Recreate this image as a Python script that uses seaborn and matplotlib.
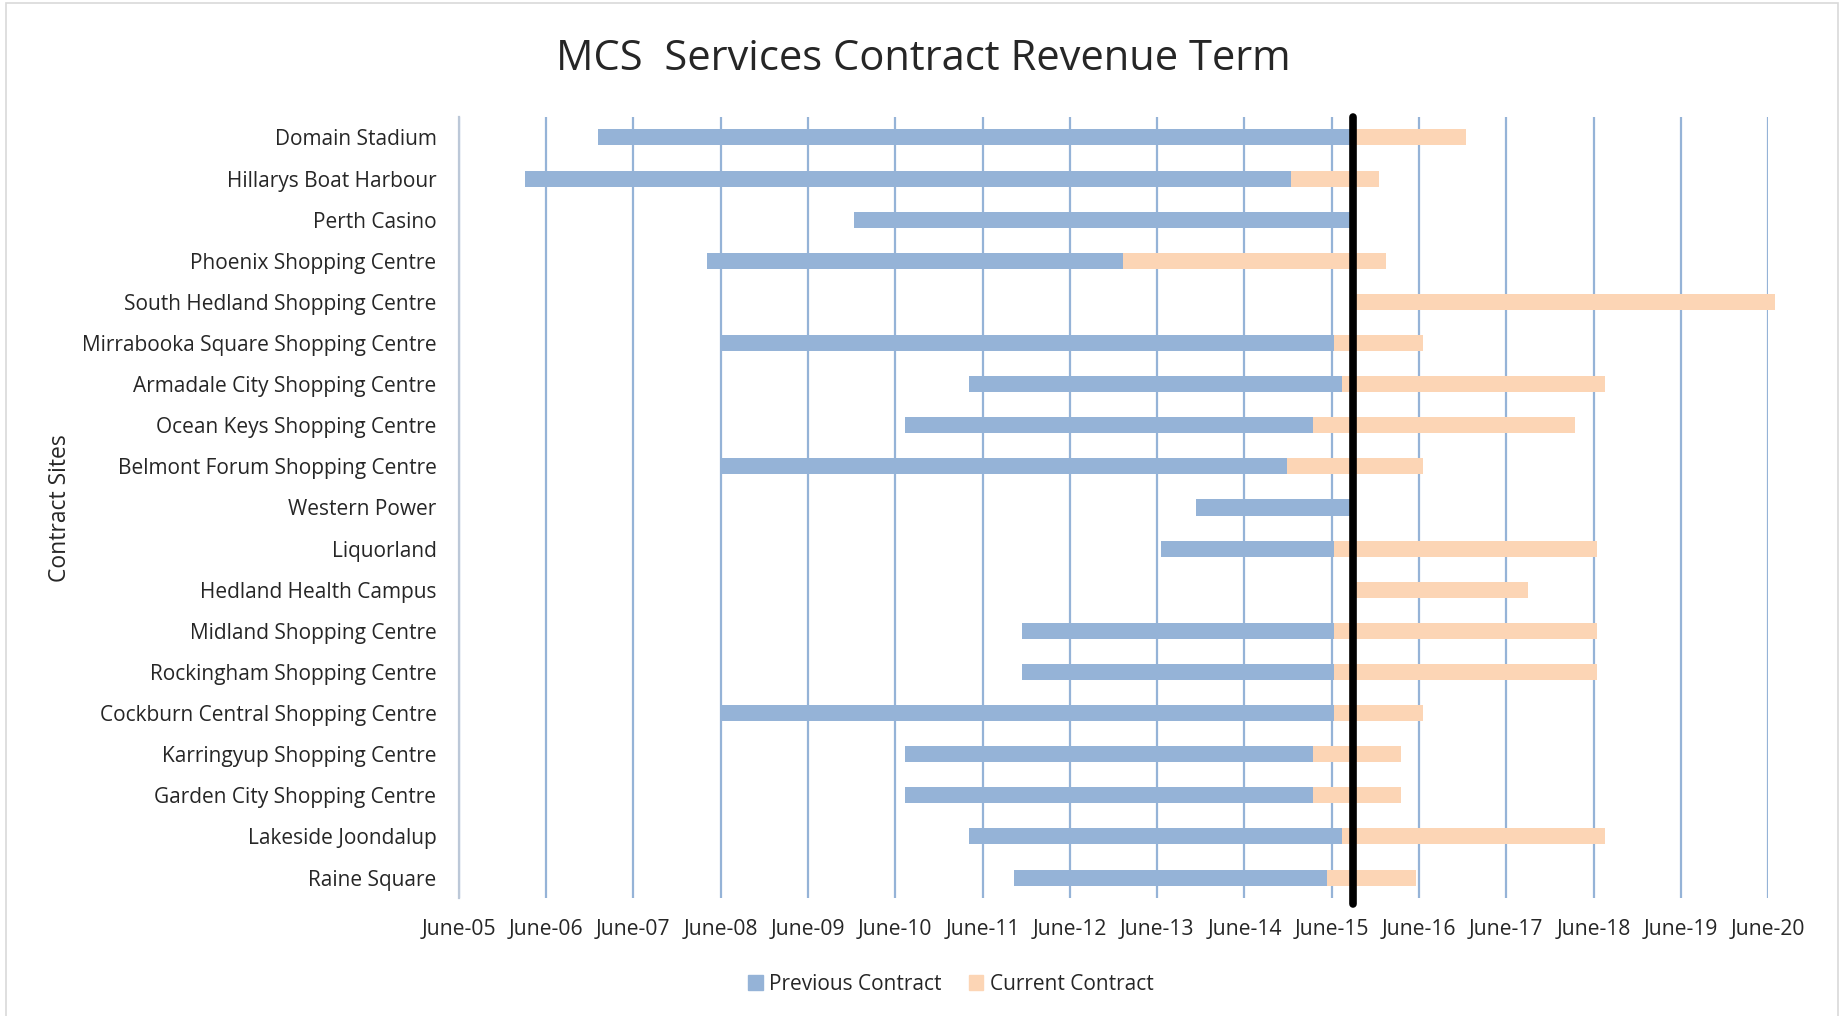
import seaborn as sns
import matplotlib.pyplot as plt
import matplotlib.patches as mpatches
import numpy as np

# contract sites, top to bottom
sites = ["Domain Stadium", "Hillarys Boat Harbour", "Perth Casino", "Phoenix Shopping Centre",
         "South Hedland Shopping Centre", "Mirrabooka Square Shopping Centre",
         "Armadale City Shopping Centre", "Ocean Keys Shopping Centre",
         "Belmont Forum Shopping Centre", "Western Power", "Liquorland",
         "Hedland Health Campus", "Midland Shopping Centre", "Rockingham Shopping Centre",
         "Cockburn Central Shopping Centre", "Karringyup Shopping Centre",
         "Garden City Shopping Centre", "Lakeside Joondalup", "Raine Square"]

# dates as decimal years (June = .0)
prev_start = [2006.60, 2005.76, 2009.53, 2007.85, np.nan, 2008.01, 2010.85, 2010.11, 2008.01, 2013.45,
              2013.04, np.nan, 2011.45, 2011.45, 2008.01, 2010.11, 2010.11, 2010.85, 2011.36]
prev_end = [2015.27, 2014.53, 2015.28, 2012.61, np.nan, 2015.03, 2015.12, 2014.79, 2014.49, 2015.28,
            2015.03, np.nan, 2015.03, 2015.03, 2015.03, 2014.79, 2014.79, 2015.12, 2014.95]
curr_start = [2015.27, 2014.53, np.nan, 2012.61, 2015.28, 2015.03, 2015.12, 2014.79, 2014.49, np.nan,
              2015.03, 2015.28, 2015.03, 2015.03, 2015.03, 2014.79, 2014.79, 2015.12, 2014.95]
curr_end = [2016.54, 2015.54, np.nan, 2015.62, 2020.07, 2016.04, 2018.13, 2017.79, 2016.04, np.nan,
            2018.04, 2017.25, 2018.04, 2018.04, 2016.04, 2015.79, 2015.79, 2018.13, 2015.96]
today = 2015.24

years = list(range(2005, 2021))
year_labels = ["June-%02d" % (y % 100) for y in years]

blue = "#95b3d7"
peach = "#fcd5b5"

sns.set_style("white")
plt.rcParams["font.family"] = ["Open Sans", "DejaVu Sans"]

fig = plt.figure(figsize=(18.44, 10.16), dpi=100)
ax = fig.add_axes([0.2487, 0.116, 0.7103, 0.769])

ps = np.array(prev_start); pe = np.array(prev_end)
cs = np.array(curr_start); ce = np.array(curr_end)
prev_dur = np.nan_to_num(pe - ps)
curr_dur = np.nan_to_num(ce - cs)

sns.barplot(x=curr_dur, y=sites, order=sites, orient="y", left=np.nan_to_num(cs, nan=2000),
            width=0.39, color=peach, saturation=1, errorbar=None, linewidth=0, ax=ax, zorder=3)
sns.barplot(x=prev_dur, y=sites, order=sites, orient="y", left=np.nan_to_num(ps, nan=2000),
            width=0.39, color=blue, saturation=1, errorbar=None, linewidth=0, ax=ax, zorder=4)
for p in ax.patches:
    if p.get_width() > 0:
        p.set_clip_on(False)

ax.axvline(today, ymin=-0.007, ymax=1, color="black", lw=5.5, zorder=6, clip_on=False)

ax.set_xlim(2005, 2020)
ax.set_ylim(len(sites) - 0.5, -0.5)
ax.set_xticks(years)
ax.set_xticklabels(year_labels, fontsize=15.2)
ax.tick_params(axis="x", length=0, pad=15)
ax.tick_params(axis="y", length=0, pad=16, labelsize=15)
ax.set_xlabel("")
ax.set_ylabel("")
ax.grid(axis="x", color=blue, lw=1.6, zorder=0)
ax.grid(axis="y", visible=False)
ax.set_axisbelow(True)
for s in ["top", "right", "bottom"]:
    ax.spines[s].set_visible(False)
ax.spines["left"].set_color("#bcc8d8")
ax.spines["left"].set_linewidth(1.6)

fig.text(0.5006, 0.942, "MCS  Services Contract Revenue Term", ha="center", va="center", fontsize=30)
fig.text(0.0325, 0.5, "Contract Sites", ha="center", va="center", rotation=90, fontsize=16.5)

handles = [mpatches.Patch(color=blue, label="Previous Contract"),
           mpatches.Patch(color=peach, label="Current Contract")]
fig.legend(handles=handles, loc="center", bbox_to_anchor=(0.5157, 0.031), ncol=2, frameon=False,
           fontsize=15, handlelength=0.7, handleheight=0.7, handletextpad=0.3, columnspacing=1.3)

# light frame around the chart
fig.patches.append(mpatches.Rectangle((0.0033, -0.01), 0.9934, 1.007, transform=fig.transFigure,
                                      fill=False, edgecolor="#d9d9d9", lw=1.2))

fig.savefig("out.png", dpi=100)
